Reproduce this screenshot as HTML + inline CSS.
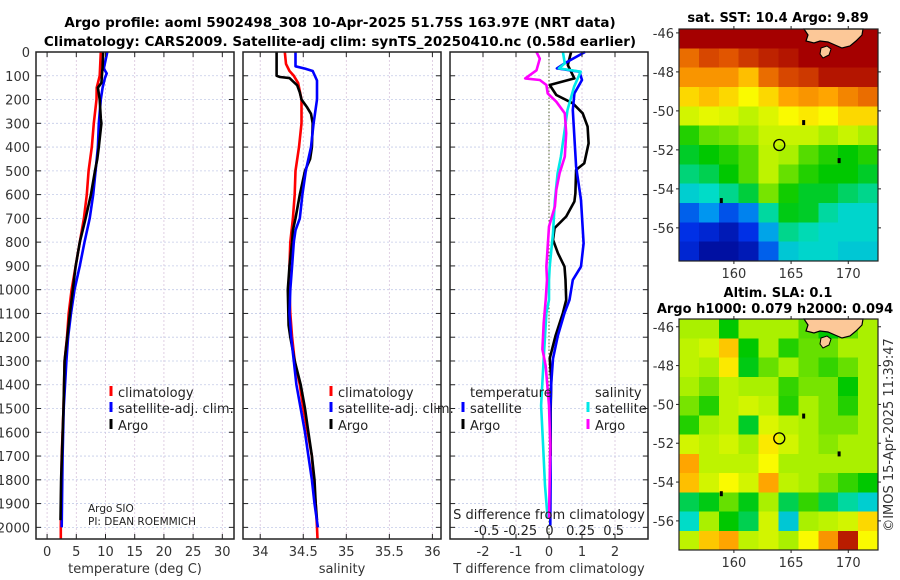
<!DOCTYPE html>
<html><head><meta charset="utf-8">
<style>
html,body{margin:0;padding:0;background:#fff;}
svg{display:block;font-family:"DejaVu Sans","Liberation Sans",sans-serif;}
</style></head>
<body>
<svg id="fig" width="900" height="580" viewBox="0 0 900 580" xmlns="http://www.w3.org/2000/svg">
<text x="340" y="27" text-anchor="middle" font-size="13.5" font-weight="bold" fill="#000">Argo profile: aoml 5902498_308 10-Apr-2025 51.75S 163.97E (NRT data)</text>
<text x="340" y="46" text-anchor="middle" font-size="13.5" font-weight="bold" fill="#000">Climatology: CARS2009. Satellite-adj clim: synTS_20250410.nc (0.58d earlier)</text>
<g id="g"></g>
</svg>
<script>
// ---------- profile data ----------
const depthTicks = [0,100,200,300,400,500,600,700,800,900,1000,1100,1200,1300,1400,1500,1600,1700,1800,1900,2000];
const tTicks = [0,5,10,15,20,25,30];
const sTicks = [34,34.5,35,35.5,36];
const sTickLabels = ["34","34.5","35","35.5","36"];
const dTicks = [-2,-1,0,1,2];

const tClimDepth = [0,100,150,200,300,400,500,600,700,800,900,1000,1100,1200,1300,1500,1700,2000,2050];
const tClimVal   = [9.2,9.0,8.5,8.45,8.0,7.65,7.1,6.8,6.3,5.6,4.9,4.2,3.7,3.4,3.0,2.8,2.5,2.35,2.35];
const tSatDepth = [0,70,90,110,150,200,300,400,500,600,700,800,900,1000,1100,1200,1300,1500,1700,2000];
const tSatVal   = [10.3,9.7,10.2,9.9,9.5,9.2,8.85,8.7,8.3,7.9,7.3,6.4,5.6,4.7,4.1,3.6,3.3,2.85,2.65,2.5];
const tArgoDepth = [0,60,130,150,200,280,300,400,450,500,600,700,750,800,900,1000,1100,1300,1500,1800,1970];
const tArgoVal   = [9.6,9.5,9.3,8.7,9.0,9.2,9.3,8.85,8.6,8.2,7.5,6.6,6.1,5.6,4.9,4.4,3.9,3.0,2.8,2.4,2.3];

const sClimDepth = [0,50,80,100,130,200,300,400,500,600,700,800,900,1000,1100,1200,1300,1400,1500,1600,1700,1800,1900,2000,2050];
const sClimVal   = [34.285,34.3,34.34,34.39,34.44,34.48,34.48,34.45,34.41,34.4,34.38,34.35,34.34,34.34,34.35,34.37,34.4,34.46,34.5,34.55,34.6,34.62,34.645,34.66,34.665];
const sSatDepth = [0,60,70,80,120,200,300,400,500,600,700,750,800,900,1000,1100,1200,1300,1400,1500,1600,1700,1800,1900,2000];
const sSatVal   = [34.41,34.41,34.52,34.61,34.66,34.66,34.62,34.59,34.53,34.49,34.46,34.41,34.39,34.37,34.35,34.34,34.36,34.39,34.42,34.47,34.52,34.56,34.6,34.63,34.67];
const sArgoDepth = [0,100,105,110,140,170,200,230,260,300,400,450,500,600,700,750,800,900,1000,1150,1200,1300,1400,1500,1600,1700,1800,1900,1970];
const sArgoVal   = [34.19,34.19,34.23,34.34,34.43,34.46,34.48,34.54,34.59,34.61,34.6,34.58,34.52,34.46,34.41,34.38,34.37,34.34,34.32,34.33,34.35,34.4,34.47,34.52,34.56,34.6,34.63,34.645,34.66];

const dTSatDepth = [0,48,69,83,118,174,244,482,623,805,903,959,1043,1098,1193,1290,1390,1515,1796,1992];
const dTSatVal   = [1.09,0.47,0.24,0.92,1.0,0.77,0.72,0.82,0.97,1.05,0.97,0.72,0.62,0.47,0.27,0.12,0.07,0.04,0.05,0.04];
const dTArgoDepth = [0,55,111,139,181,216,258,314,384,468,496,594,629,692,741,790,846,903,959,1043,1098,1193,1290,1376,1515,1700];
const dTArgoVal   = [0.67,0.57,0.77,0.02,0.22,0.72,1.02,1.17,1.2,1.07,0.82,0.8,0.77,0.52,0.17,0.12,0.27,0.47,0.5,0.52,0.42,0.2,0.02,0.07,0.05,0.05];
const dSArgoDepth = [0,28,77,111,118,139,174,209,258,342,440,510,580,650,734,903,959,1043,1140,1251,1321,1487,1655,1964];
const dSArgoVal   = [-0.095,-0.07,-0.095,-0.18,-0.07,-0.02,-0.01,0.055,0.12,0.13,0.12,0.08,0.055,0.045,0.0,-0.02,-0.015,-0.025,-0.04,-0.05,-0.025,0.0,0.01,0.0];
const dSSatDepth = [0,48,69,83,146,244,342,440,510,623,763,903,959,1043,1098,1290,1487,1655,1824,1964];
const dSSatVal   = [0.105,0.12,0.075,0.24,0.19,0.14,0.115,0.09,0.065,0.045,0.03,0.005,0.0,0.0,-0.02,-0.04,-0.06,-0.045,-0.03,-0.01];

// ---------- map data (colour index 0..1), rows north->south ----------
const latTicks = [-46,-48,-50,-52,-54,-56];
const lonTicks = [160,165,170];
const sstGrid = [
 [1,1,1,1,1,1,1,1,1,1],
 [0.85,0.9,0.88,0.92,0.95,0.97,1,1,1,1],
 [0.8,0.8,0.8,0.75,0.85,0.9,0.92,0.97,0.97,0.97],
 [0.72,0.75,0.72,0.68,0.72,0.78,0.8,0.78,0.82,0.85],
 [0.64,0.66,0.65,0.62,0.65,0.68,0.7,0.68,0.72,0.72],
 [0.52,0.56,0.57,0.59,0.63,0.63,0.63,0.6,0.63,0.6],
 [0.48,0.5,0.52,0.55,0.62,0.6,0.55,0.52,0.5,0.52],
 [0.44,0.46,0.5,0.55,0.62,0.56,0.52,0.5,0.5,0.48],
 [0.38,0.4,0.43,0.47,0.57,0.51,0.48,0.48,0.45,0.43],
 [0.22,0.3,0.2,0.27,0.42,0.49,0.48,0.42,0.39,0.39],
 [0.15,0.12,0.08,0.15,0.32,0.43,0.41,0.39,0.39,0.39],
 [0.12,0.05,0.05,0.08,0.22,0.37,0.39,0.39,0.37,0.37]
];
const slaGrid = [
 [0.6,0.6,0.5,0.6,0.6,0.6,0.55,0.5,0.55,0.6],
 [0.62,0.64,0.74,0.5,0.6,0.52,0.56,0.56,0.6,0.6],
 [0.62,0.6,0.7,0.49,0.56,0.6,0.56,0.53,0.56,0.6],
 [0.6,0.57,0.62,0.6,0.6,0.53,0.57,0.57,0.5,0.6],
 [0.57,0.52,0.62,0.64,0.62,0.52,0.6,0.57,0.52,0.6],
 [0.52,0.6,0.62,0.48,0.65,0.62,0.6,0.57,0.57,0.6],
 [0.64,0.62,0.64,0.6,0.7,0.64,0.6,0.58,0.6,0.6],
 [0.78,0.62,0.62,0.62,0.68,0.6,0.6,0.6,0.6,0.6],
 [0.75,0.64,0.68,0.64,0.78,0.62,0.6,0.57,0.53,0.5],
 [0.46,0.49,0.56,0.49,0.6,0.46,0.53,0.46,0.42,0.38],
 [0.4,0.6,0.5,0.46,0.64,0.37,0.6,0.62,0.64,0.72],
 [0.62,0.74,0.78,0.62,0.64,0.6,0.68,0.8,0.96,0.68]
];
const argoLon = 163.97, argoLat = -51.75;

// ---------- drawing ----------
const NS = "http://www.w3.org/2000/svg";
const G = document.getElementById('g');
function el(tag, attrs, parent, txt){
  const e = document.createElementNS(NS, tag);
  for (const k in attrs) e.setAttribute(k, attrs[k]);
  if (txt !== undefined) e.textContent = txt;
  (parent || G).appendChild(e);
  return e;
}
const Y0 = 52, Y1 = 539, DMAX = 2049;
const yD = d => Y0 + d * (Y1 - Y0) / DMAX;
const panels = [
  {name:'temperature', x0:36, x1:234, vmin:-1.9, vmax:32},
  {name:'salinity', x0:243, x1:441, vmin:33.8, vmax:36.1},
  {name:'difference', x0:450, x1:648, vmin:-3, vmax:3}
];
const xf = p => v => p.x0 + (v - p.vmin) * (p.x1 - p.x0) / (p.vmax - p.vmin);
const xT = xf(panels[0]), xS = xf(panels[1]), xDT = xf(panels[2]);
const xDS = v => xDT(v * 4);

function grid(p, xt, xs){
  const gg = el('g', {});
  
  
  xt.forEach(v => el('line', {x1:xs(v), x2:xs(v), y1:Y0, y2:Y1, stroke:'#d8c4dc', 'stroke-width':0.8, 'stroke-dasharray':'2,2'}, gg));
  depthTicks.forEach(d => el('line', {x1:p.x0, x2:p.x1, y1:yD(d), y2:yD(d), stroke:'#c4cbe8', 'stroke-width':0.8, 'stroke-dasharray':'2,2'}, gg));
}
function frame(p, xt, xs, labels){
  const gg = el('g', {});
  
  
  el('rect', {x:p.x0, y:Y0, width:p.x1-p.x0, height:Y1-Y0, fill:'none', stroke:'#222', 'stroke-width':1.5}, gg);
  depthTicks.forEach(d => {
    el('line', {x1:p.x0, x2:p.x0+5, y1:yD(d), y2:yD(d), stroke:'#222'}, gg);
    el('line', {x1:p.x1-5, x2:p.x1, y1:yD(d), y2:yD(d), stroke:'#222'}, gg);
  });
  xt.forEach((v,i) => {
    el('line', {x1:xs(v), x2:xs(v), y1:Y1, y2:Y1-5, stroke:'#222'}, gg);
    el('line', {x1:xs(v), x2:xs(v), y1:Y0, y2:Y0+5, stroke:'#222'}, gg);
    const t = el('text', {x:xs(v), y:556, 'text-anchor':'middle', 'font-size':13, fill:'#333'}, gg, labels[i]);
    
    
  });
}
function line(depths, vals, xs, color, name, w){
  const pts = depths.map((d,i) => xs(vals[i]).toFixed(1) + ',' + yD(d).toFixed(1)).join(' ');
  const pl = el('polyline', {points:pts, fill:'none', stroke:color, 'stroke-width':w||2.6, 'stroke-linejoin':'round'});
  
  
}

grid(panels[0], tTicks, xT);
grid(panels[1], sTicks, xS);
grid(panels[2], dTicks, xDT);

const zl = el('line', {x1:xDT(0), x2:xDT(0), y1:Y0, y2:Y1, stroke:'#556633', 'stroke-width':1, 'stroke-dasharray':'1.5,2'});



depthTicks.forEach(d => {
  const t = el('text', {x:30, y:yD(d)+5, 'text-anchor':'end', 'font-size':13, fill:'#333'}, G, String(d));
  
  
});

line(tClimDepth, tClimVal, xT, '#ff0000', 'temperature-climatology-line');
line(tSatDepth, tSatVal, xT, '#0000ff', 'temperature-satellite-line');
line(tArgoDepth, tArgoVal, xT, '#000000', 'temperature-argo-line');
line(sClimDepth, sClimVal, xS, '#ff0000', 'salinity-climatology-line');
line(sArgoDepth, sArgoVal, xS, '#000000', 'salinity-argo-line');
line(sSatDepth, sSatVal, xS, '#0000ff', 'salinity-satellite-line');
line(dTArgoDepth, dTArgoVal, xDT, '#000000', 'tdiff-argo-line');
line(dTSatDepth, dTSatVal, xDT, '#0000ff', 'tdiff-satellite-line');
line(dSSatDepth, dSSatVal, xDS, '#00e8e8', 'sdiff-satellite-line');
line(dSArgoDepth, dSArgoVal, xDS, '#ff00ff', 'sdiff-argo-line');

frame(panels[0], tTicks, xT, tTicks.map(String));
frame(panels[1], sTicks, xS, sTickLabels);
frame(panels[2], dTicks, xDT, dTicks.map(String));

function txt(x, y, s, name, opts){
  const o = Object.assign({x:x, y:y, 'font-size':13, fill:'#222'}, opts||{});
  const t = el('text', o, G, s);
  
  
  return t;
}
function mark(x, y, color, name){
  const r = el('rect', {x:x-1.5, y:y-11, width:3, height:10, fill:color});
  
  
}
txt(135, 573, 'temperature (deg C)', 'temperature-axis-title', {'text-anchor':'middle', fill:'#333'});
txt(342, 573, 'salinity', 'salinity-axis-title', {'text-anchor':'middle', fill:'#333'});
txt(549, 573, 'T difference from climatology', 'tdiff-axis-title', {'text-anchor':'middle', fill:'#333'});
txt(549, 519, 'S difference from climatology', 'sdiff-axis-title', {'text-anchor':'middle'});
txt(549, 535, '-0.5 -0.25  0   0.25  0.5', 'sdiff-tick-labels', {'text-anchor':'middle'}).setAttribute('style','white-space:pre');

[[0,111],[1,331]].forEach(([i,mx]) => {
  mark(mx, 397, '#ff0000', 'legend-climatology-marker');
  txt(mx+7, 397, 'climatology', 'legend-climatology');
  mark(mx, 413, '#0000ff', 'legend-satellite-marker');
  txt(mx+7, 413, 'satellite-adj. clim.', 'legend-satellite-adj');
  mark(mx, 430, '#000000', 'legend-argo-marker');
  txt(mx+7, 430, 'Argo', 'legend-argo');
});
txt(470, 397, 'temperature', 'legend-temperature-title');
mark(463, 413, '#0000ff', 'legend-t-satellite-marker');
txt(470, 413, 'satellite', 'legend-t-satellite');
mark(463, 430, '#000000', 'legend-t-argo-marker');
txt(470, 430, 'Argo', 'legend-t-argo');
txt(595, 397, 'salinity', 'legend-salinity-title');
mark(588, 413, '#00e8e8', 'legend-s-satellite-marker');
txt(595, 413, 'satellite', 'legend-s-satellite');
mark(588, 430, '#ff00ff', 'legend-s-argo-marker');
txt(595, 430, 'Argo', 'legend-s-argo');
txt(88, 512, 'Argo SIO', 'argo-institution', {'font-size':10.5});
txt(88, 525, 'PI: DEAN ROEMMICH', 'argo-pi', {'font-size':10.5});

// ---------- maps ----------
const cmapStops = [[0,[0,0,128]],[0.15,[0,48,230]],[0.3,[0,150,240]],[0.4,[0,220,200]],[0.5,[0,200,0]],[0.6,[170,240,0]],[0.68,[250,250,0]],[0.78,[255,165,0]],[0.88,[225,85,0]],[1,[165,0,0]]];
function cmap(v){
  v = Math.max(0, Math.min(1, v));
  for (let i = 1; i < cmapStops.length; i++){
    const a = cmapStops[i-1], b = cmapStops[i];
    if (v <= b[0]){
      const f = (v - a[0]) / (b[0] - a[0]);
      const c = a[1].map((x,k) => Math.round(x + f*(b[1][k]-x)));
      return 'rgb(' + c.join(',') + ')';
    }
  }
  return 'rgb(165,0,0)';
}
function drawMap(m, gridData, name){
  const mx = lon => m.x0 + (lon - m.lon0) * (m.x1 - m.x0) / (m.lon1 - m.lon0);
  const my = lat => m.y0 + (m.lat0 - lat) * (m.y1 - m.y0) / (m.lat0 - m.lat1);
  const gg = el('g', {'shape-rendering':'crispEdges'});
  
  
  const rows = gridData.length, cols = gridData[0].length;
  const cw = (m.x1 - m.x0) / cols, ch = (m.y1 - m.y0) / rows;
  gridData.forEach((row, r) => row.forEach((v, c) => {
    const cell = el('rect', {x:(m.x0 + c*cw).toFixed(2), y:(m.y0 + r*ch).toFixed(2), width:(cw+0.6).toFixed(2), height:(ch+0.6).toFixed(2), fill:cmap(v)}, gg);
    
    
  }));
  const y0 = m.y0;
  const land = el('path', {d:'M804,'+y0+' L863,'+y0+' L862,'+(y0+6)+' L856,'+(y0+12)+' L850,'+(y0+17)+' L842,'+(y0+19)+' L835,'+(y0+16)+' L828,'+(y0+13)+' L820,'+(y0+12)+' L814,'+(y0+14)+' L806,'+(y0+12)+' L808,'+(y0+6)+' Z', fill:'#fcc898', stroke:'#000', 'stroke-width':1.2});
  
  
  const isl = el('path', {d:'M821,'+(y0+19)+' l6,-2 l4,3 l-2,6 l-6,3 l-3,-4 Z', fill:'#fcc898', stroke:'#000', 'stroke-width':1});
  
  
  [[166.1,-50.6],[169.2,-52.55],[158.9,-54.6]].forEach(p => {
    const s = el('rect', {x:mx(p[0])-1.5, y:my(p[1])-2.5, width:3, height:5, fill:'#000'});
    
    
  });
  const c = el('circle', {cx:mx(argoLon), cy:my(argoLat), r:5.5, fill:'none', stroke:'#000', 'stroke-width':1.3});
  
  
  el('rect', {x:m.x0, y:m.y0, width:m.x1-m.x0, height:m.y1-m.y0, fill:'none', stroke:'#222', 'stroke-width':1.2});
  latTicks.forEach(l => {
    el('line', {x1:m.x0-3, x2:m.x0, y1:my(l), y2:my(l), stroke:'#222'});
    el('line', {x1:m.x1, x2:m.x1+3, y1:my(l), y2:my(l), stroke:'#222'});
    const t = el('text', {x:m.x0-5, y:my(l)+5, 'text-anchor':'end', 'font-size':13, fill:'#333'}, G, String(l));
    
    
  });
  lonTicks.forEach(l => {
    el('line', {x1:mx(l), x2:mx(l), y1:m.y1, y2:m.y1+3, stroke:'#222'});
    el('line', {x1:mx(l), x2:mx(l), y1:m.y0-3, y2:m.y0, stroke:'#222'});
    const t = el('text', {x:mx(l), y:m.y1+17, 'text-anchor':'middle', 'font-size':13, fill:'#333'}, G, String(l));
    
    
  });
}
drawMap({x0:679, x1:878, y0:29, y1:261, lon0:155.2, lon1:172.6, lat0:-45.8, lat1:-57.7}, sstGrid, 'sst');
drawMap({x0:679, x1:878, y0:319, y1:550, lon0:155.2, lon1:172.6, lat0:-45.6, lat1:-57.5}, slaGrid, 'sla');

txt(778, 22, 'sat. SST: 10.4 Argo: 9.89', 'sst-map-title', {'text-anchor':'middle', 'font-weight':'bold', fill:'#000'});
txt(778, 297, 'Altim. SLA: 0.1', 'sla-map-title', {'text-anchor':'middle', 'font-weight':'bold', fill:'#000'});
txt(775, 313, 'Argo h1000: 0.079 h2000: 0.094', 'sla-map-subtitle', {'text-anchor':'middle', 'font-weight':'bold', fill:'#000'});
txt(0, 0, '©IMOS 15-Apr-2025 11:39:47', 'timestamp-credit', {'text-anchor':'middle', transform:'translate(893,435) rotate(-90)', fill:'#333'});
</script>
</body></html>
